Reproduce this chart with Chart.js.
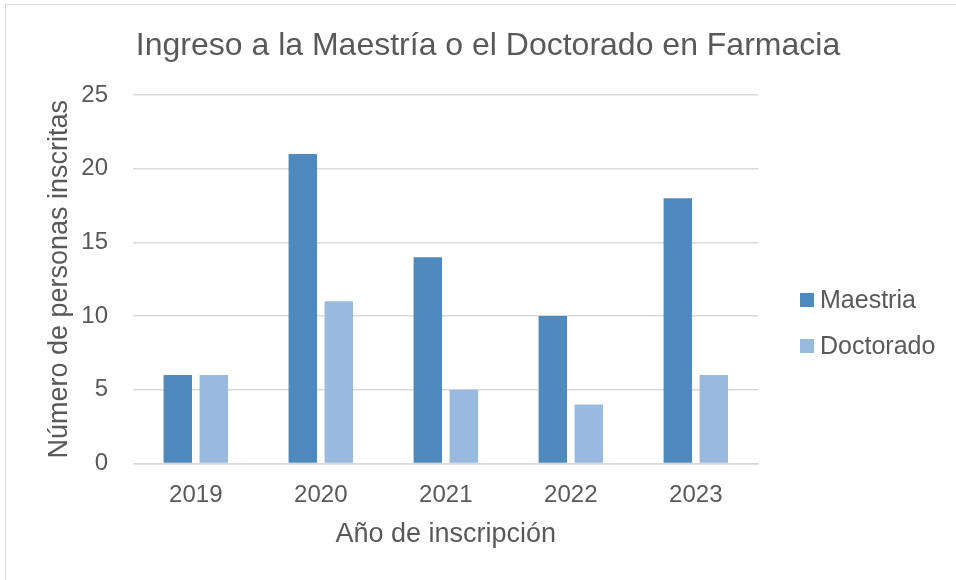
<!DOCTYPE html>
<html>
<head>
<meta charset="utf-8">
<script src="https://cdn.jsdelivr.net/npm/chart.js@4.4.0/dist/chart.umd.min.js"></script>
<style>
  html, body { margin: 0; padding: 0; background: #fff; }
  #frame { position: absolute; left: 5px; top: 4px; width: 1200px; height: 1000px;
           border-left: 1px solid #d9d9d9; border-top: 1px solid #d9d9d9; }
  #wrap { position: absolute; left: 0; top: 0; width: 956px; height: 580px; }
</style>
</head>
<body>
<div id="frame"></div>
<div id="wrap"><canvas id="c" width="956" height="580"></canvas></div>
<script>
const years = ['2019', '2020', '2021', '2022', '2023'];
const maestria = [6, 21, 14, 10, 18];
const doctorado = [6, 11, 5, 4, 6];
const seriesNames = ['Maestria', 'Doctorado'];
const chartTitle = 'Ingreso a la Maestría o el Doctorado en Farmacia';
const xTitle = 'Año de inscripción';
const yTitle = 'Número de personas inscritas';

const FONT = "'Liberation Sans', Arial, sans-serif";
const GREY = '#595959';

// Legend drawn at the right, Excel-style (box + label)
const sideLegend = {
  id: 'sideLegend',
  afterDraw(chart) {
    const ctx = chart.ctx;
    const x = 800;
    const firstY = 300, step = 46, box = 14;
    ctx.save();
    ctx.font = '25px ' + FONT;
    ctx.textBaseline = 'middle';
    ctx.textAlign = 'left';
    chart.data.datasets.forEach((ds, i) => {
      const y = firstY + i * step;
      ctx.fillStyle = ds.backgroundColor;
      ctx.fillRect(x, y - box / 2, box, box);
      ctx.fillStyle = GREY;
      ctx.fillText(ds.label, x + 20, y + 1);
    });
    ctx.restore();
  }
};

new Chart(document.getElementById('c'), {
  type: 'bar',
  data: {
    labels: years,
    datasets: [
      { label: seriesNames[0], data: maestria, backgroundColor: '#4f8abe',
        categoryPercentage: 0.576, barPercentage: 0.79 },
      { label: seriesNames[1], data: doctorado, backgroundColor: '#99b9df',
        categoryPercentage: 0.576, barPercentage: 0.79 }
    ]
  },
  plugins: [sideLegend],
  options: {
    responsive: false,
    animation: false,
    layout: { padding: { left: 20, right: 0, top: 0, bottom: 20 } },
    plugins: {
      title: {
        display: true, text: chartTitle, color: GREY,
        font: { family: FONT, size: 32, weight: 'normal' },
        padding: { top: 27, bottom: 29.6 }
      },
      legend: { display: false },
      tooltip: { enabled: false }
    },
    scales: {
      x: {
        grid: { display: false, drawTicks: false },
        border: { display: true, color: '#d9d9d9', width: 1.5 },
        ticks: { color: GREY, font: { family: FONT, size: 24 }, padding: 17.2 },
        title: { display: true, text: xTitle, color: GREY,
                 font: { family: FONT, size: 27 }, padding: { top: 0, bottom: 9.3 } },
        afterFit: (s) => { s.height = 96.5; }
      },
      y: {
        min: 0, max: 25,
        ticks: { stepSize: 5, color: GREY, font: { family: FONT, size: 24 }, padding: 25.3 },
        grid: { color: '#d9d9d9', lineWidth: 1.5, drawTicks: false },
        border: { display: false },
        title: { display: true, text: yTitle, color: GREY,
                 font: { family: FONT, size: 27 }, padding: { top: 23.8, bottom: 0 } },
        afterFit: (s) => { s.width = 113.3; }
      },
      gap: {
        axis: 'y', position: 'right', display: true,
        ticks: { display: false }, grid: { display: false, drawTicks: false },
        border: { display: false },
        afterFit: (s) => { s.width = 197.7; }
      }
    }
  }
});
</script>
</body>
</html>
